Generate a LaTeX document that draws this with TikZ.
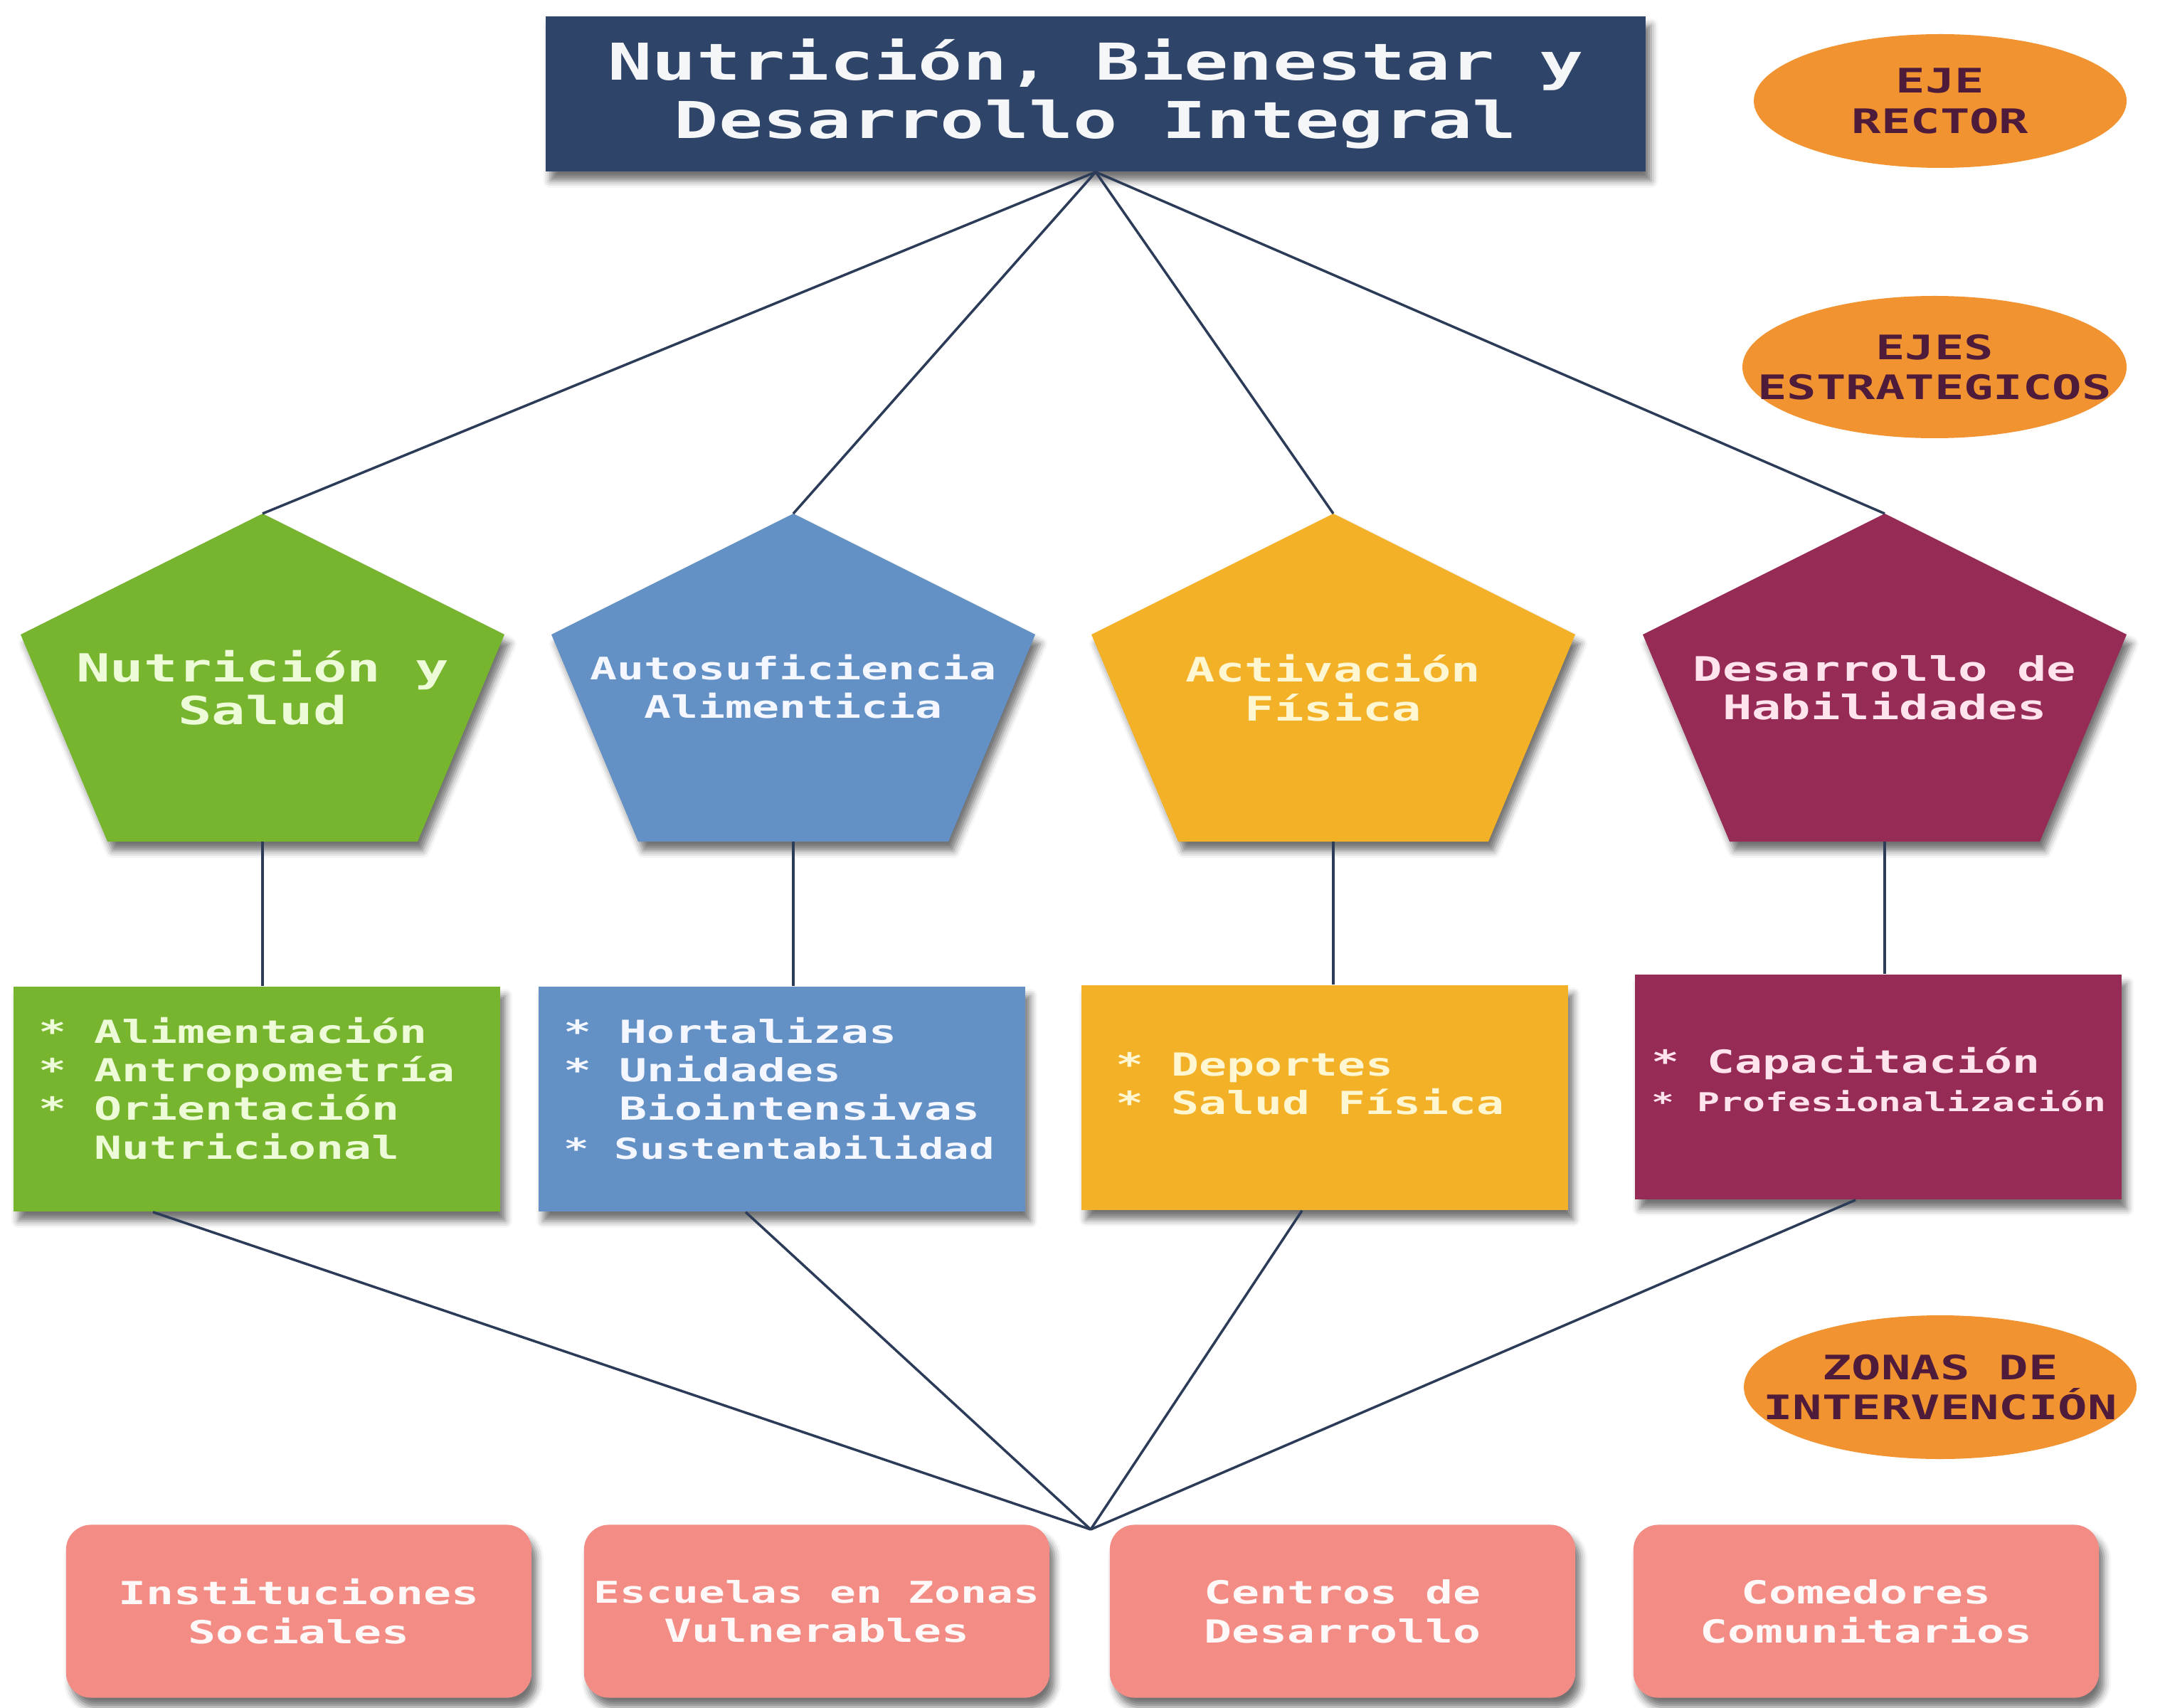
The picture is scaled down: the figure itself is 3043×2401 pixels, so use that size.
\documentclass[tikz,border=0pt]{standalone}
\usepackage{fontspec}
\newfontfamily\monob[FakeStretch=1.45]{DejaVu Sans Mono Bold}
\usetikzlibrary{shapes.geometric,shadows.blur}
\definecolor{navy}{HTML}{2E4469}
\definecolor{linecol}{HTML}{2C3B57}
\definecolor{pgreen}{HTML}{77B52F}
\definecolor{pblue}{HTML}{6390C5}
\definecolor{pyellow}{HTML}{F3B128}
\definecolor{pmaroon}{HTML}{962B56}
\definecolor{ovalcol}{HTML}{F29331}
\definecolor{ovaltxt}{HTML}{4E1B3B}
\definecolor{salmon}{HTML}{F28C84}
\definecolor{txgreen}{HTML}{EEFBD8}
\definecolor{txblue}{HTML}{F4F7FF}
\definecolor{txyellow}{HTML}{FFF6D2}
\definecolor{txmaroon}{HTML}{FFE4EE}
\newcommand{\fsz}[2]{\fontsize{#1}{#2}\selectfont}

\begin{document}
\begin{tikzpicture}[x=.01cm, y=-.01cm, font=\monob,
	link/.style={draw=linecol, line width=1pt},
	boxshadow/.style={blur shadow={shadow xshift=.07cm, shadow yshift=-.13cm, shadow blur radius=.1cm, shadow opacity=55}},
	ovaltext/.style={text=ovaltxt, align=center, font=\monob\fsz{13.5}{16}},
	ptext/.style={align=center, font=\monob\fsz{13.5}{15.5}},
	listbox/.style={rectangle, minimum width=6.84cm, minimum height=3.16cm, boxshadow},
	listtext/.style={anchor=west, align=left, inner sep=0pt, font=\monob\fsz{12.7}{15.4}},
	zonebox/.style={rectangle, rounded corners=.35cm, fill=salmon, minimum width=6.54cm, minimum height=2.43cm, boxshadow, text=white!94!salmon, align=center, font=\monob\fsz{12.7}{15.6}}]
	\useasboundingbox (0,0) rectangle (3043,2401);
	%ovals
	\fill[ovalcol] (2727,142) ellipse (262 and 94);
	\node[ovaltext] (lblrector) at (2727,142) {EJE\\RECTOR};
	\fill[ovalcol] (2719,516) ellipse (270 and 100);
	\node[ovaltext] (lblejes) at (2719,516) {EJES\\ESTRATEGICOS};
	\fill[ovalcol] (2727,1950) ellipse (276 and 101);
	\node[ovaltext] (lblzonas) at (2727,1950) {ZONAS DE\\INTERVENCIÓN};
	%eje rector
	\node[rectangle, fill=navy, minimum width=15.46cm, minimum height=2.18cm, boxshadow, text=white!95!navy, align=center, font=\monob\fsz{20.3}{23.2}] (eje) at (1540,132) {Nutrición, Bienestar y\\Desarrollo Integral};
	%ejes estrategicos
	\foreach \cx/\col/\nm in {369/pgreen/ns, 1115/pblue/aa, 1874/pyellow/af, 2649/pmaroon/dh}{
		\fill[\col, boxshadow] (\cx,722) -- (\cx+340,892) -- (\cx+218,1183) -- (\cx-218,1183) -- (\cx-340,892) -- cycle;
		\coordinate (\nm-top) at (\cx,722);
		\coordinate (\nm-bot) at (\cx,1183);
	}
	\node[ptext, text=txgreen, font=\monob\fsz{15.5}{17}] (ns) at (369,967) {Nutrición y\\Salud};
	\node[ptext, text=txblue, font=\monob\fsz{12.4}{15.5}] (aa) at (1115,965) {Autosuficiencia\\Alimenticia};
	\node[ptext, text=txyellow] (af) at (1874,967) {Activación\\Física};
	\node[ptext, text=txmaroon] (dh) at (2649,967) {Desarrollo de\\Habilidades};
	%lineas de accion
	\node[listbox, fill=pgreen] (lst1) at (361,1545) {};
	\node[listtext, text=txgreen] (lst1t) at (54,1530) {* Alimentación\\* Antropometría\\* Orientación\\\hphantom{*}\ Nutricional};
	\node[listbox, fill=pblue] (lst2) at (1099,1545) {};
	\node[listtext, text=txblue] (lst2t) at (792,1530) {* Hortalizas\\* Unidades\\\hphantom{*}\ Biointensivas\\{\fsz{11.6}{15.4}* Sustentabilidad}};
	\node[listbox, fill=pyellow] (lst3) at (1862,1543) {};
	\node[listtext, text=txyellow] (lst3t) at (1568,1523) {* Deportes\\* Salud Física};
	\node[listbox, fill=pmaroon] (lst4) at (2640,1528) {};
	\node[listtext, text=txmaroon] (lst4t) at (2321,1518) {* Capacitación\\{\fsz{10.4}{15.4}* Profesionalización}};
	%zonas de intervencion
	\node[zonebox] (zn1) at (420,2265) {Instituciones\\Sociales};
	\node[zonebox] (zn2) at (1148,2265) {{\fsz{12}{15.6}Escuelas en Zonas}\\Vulnerables};
	\node[zonebox] (zn3) at (1887,2265) {Centros de\\Desarrollo};
	\node[zonebox] (zn4) at (2623,2265) {Comedores\\Comunitarios};
	\coordinate (hub) at (1533,2150);
	%links
	\foreach \p in {ns,aa,af,dh}
	\draw[link] (eje.south) -- (\p-top);
	\foreach \p/\b in {ns/lst1, aa/lst2, af/lst3, dh/lst4}
	\draw[link] (\p-bot) -- (\p-bot |- \b.north);
	\foreach \b/\s in {lst1/-146, lst2/-51, lst3/-32, lst4/-32}
	\draw[link] ([xshift=\s*0.01cm]\b.south) -- (hub);
\end{tikzpicture}
\end{document}
